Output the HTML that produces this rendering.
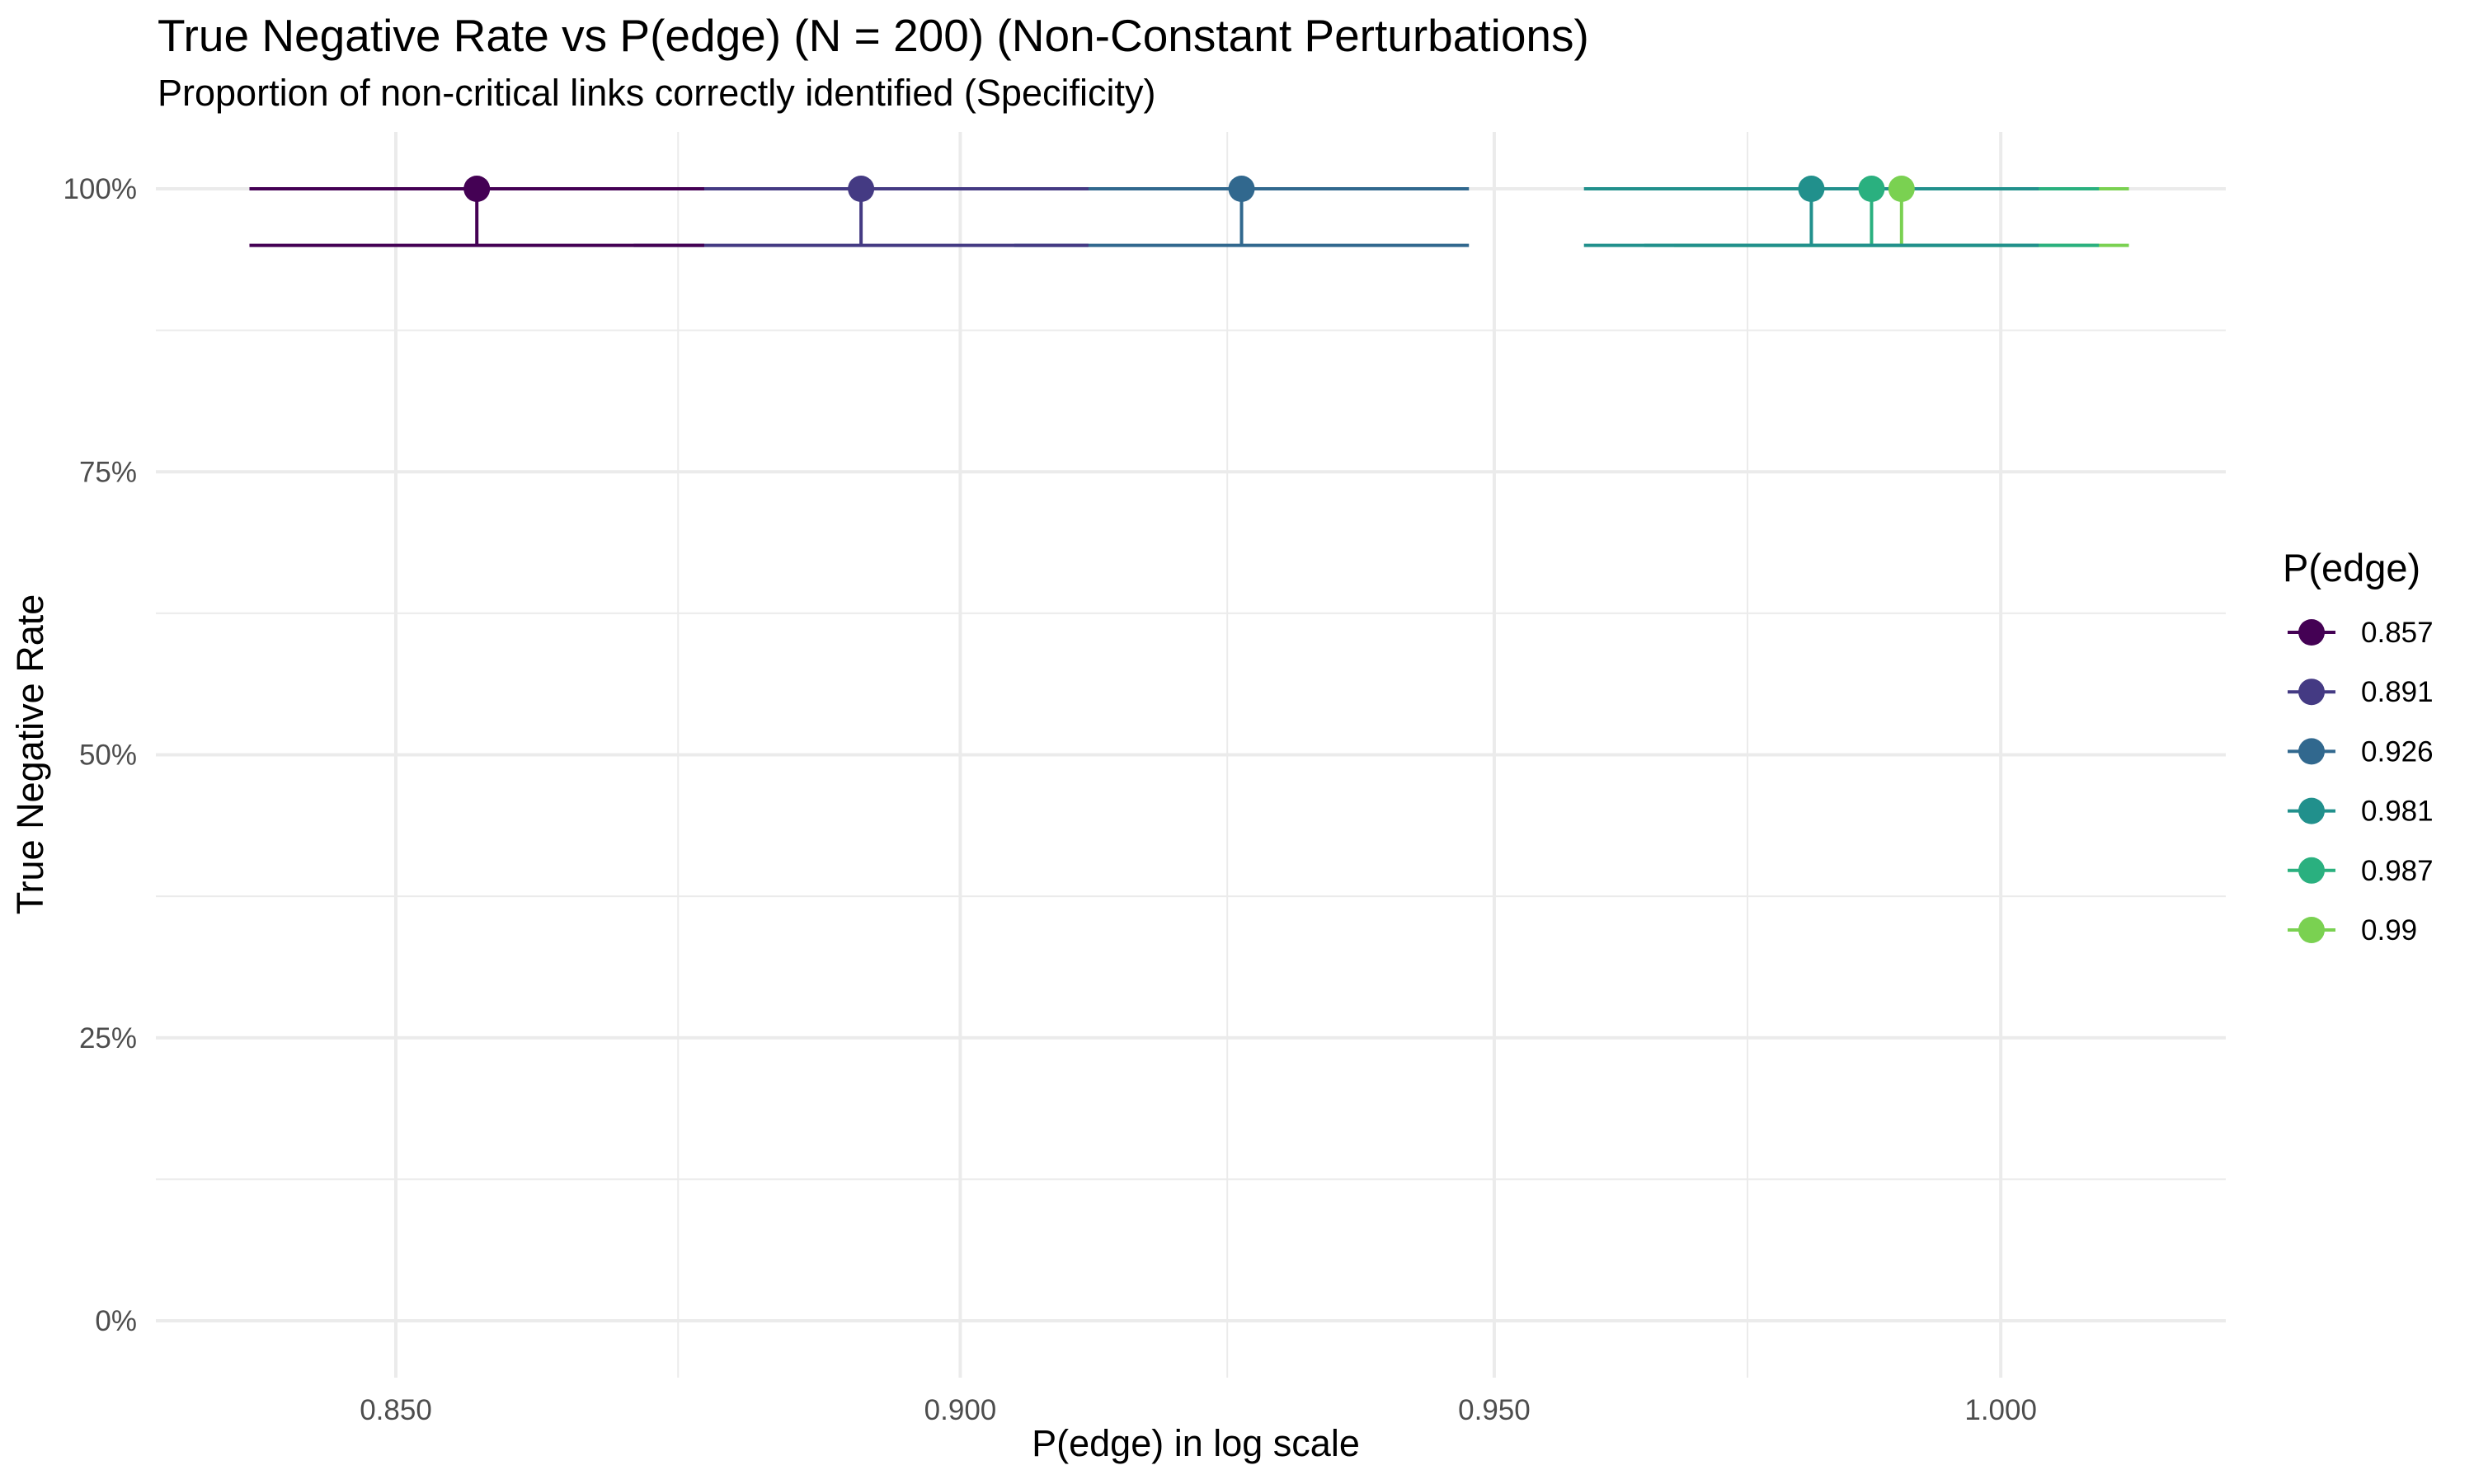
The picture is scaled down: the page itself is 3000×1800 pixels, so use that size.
<!DOCTYPE html>
<html><head><meta charset="utf-8"><style>
html,body{margin:0;padding:0;background:#fff;}
svg{display:block;font-family:"Liberation Sans",sans-serif;}
</style></head><body>
<svg id="chart" width="3000" height="1800" viewBox="0 0 3000 1800">
<text x="191" y="62" font-size="55" fill="#000">True Negative Rate vs P(edge) (N = 200) (Non-Constant Perturbations)</text>
<text x="191" y="128" font-size="45" fill="#000">Proportion of non-critical links correctly identified (Specificity)</text>
<g id="grid"></g>
<g id="marks"></g>
<g id="axes"></g>
<text x="1450" y="1766" font-size="45" text-anchor="middle" fill="#000">P(edge) in log scale</text>
<text transform="translate(52,915) rotate(-90)" font-size="45" text-anchor="middle" fill="#000">True Negative Rate</text>
<text x="2768" y="705" font-size="47" fill="#000">P(edge)</text>
<g id="legend"></g>
</svg>
<script>
const categories = ["0.857","0.891","0.926","0.981","0.987","0.99"];
const pEdge = [0.857,0.891,0.926,0.981,0.987,0.99];
const tnr = [1.0,1.0,1.0,1.0,1.0,1.0];
const tnrLow = [0.95,0.95,0.95,0.95,0.95,0.95];
const colors = ["#440154","#443A83","#31688E","#21908C","#2AB07F","#7AD151"];
const xTicks = [0.85,0.9,0.95,1.0];
const xTickLabels = ["0.850","0.900","0.950","1.000"];
const yTicks = [0,0.25,0.5,0.75,1];
const yTickLabels = ["0%","25%","50%","75%","100%"];

const NS="http://www.w3.org/2000/svg";
const PL=189, PR=2699, PT=160, PB=1671;
const K=11975;
function xs(v){return 480+Math.log(v/0.85)*K;}
function ys(v){return 1602-v*1373;}
function mk(tag,attrs,parent){const e=document.createElementNS(NS,tag);for(const k in attrs)e.setAttribute(k,attrs[k]);parent.appendChild(e);return e;}
const grid=document.getElementById('grid'), marks=document.getElementById('marks'), axes=document.getElementById('axes'), legend=document.getElementById('legend');

for(let i=0;i<yTicks.length-1;i++){
  const y=(ys(yTicks[i])+ys(yTicks[i+1]))/2;
  const l=mk('line',{x1:PL,x2:PR,y1:y,y2:y,stroke:'#ebebeb','stroke-width':2},grid);
  
  
}
for(let i=0;i<xTicks.length-1;i++){
  const x=(xs(xTicks[i])+xs(xTicks[i+1]))/2;
  const l=mk('line',{x1:x,x2:x,y1:PT,y2:PB,stroke:'#ebebeb','stroke-width':2},grid);
  
  
}
yTicks.forEach((v,i)=>{
  const y=ys(v);
  const l=mk('line',{x1:PL,x2:PR,y1:y,y2:y,stroke:'#ebebeb','stroke-width':4},grid);
  
  
  const t=mk('text',{x:166,y:y+12,'font-size':35,'text-anchor':'end',fill:'#4d4d4d'},axes);
  t.textContent=yTickLabels[i];
  
  
});
xTicks.forEach((v,i)=>{
  const x=xs(v);
  const l=mk('line',{x1:x,x2:x,y1:PT,y2:PB,stroke:'#ebebeb','stroke-width':4},grid);
  
  
  const t=mk('text',{x:x,y:1722,'font-size':35,'text-anchor':'middle',fill:'#4d4d4d'},axes);
  t.textContent=xTickLabels[i];
  
  
});
const F=Math.pow(10,0.01);
for(let i=pEdge.length-1;i>=0;i--){
  const p=pEdge[i];
  const g=mk('g',{},marks);
  
  
  const x0=xs(p/F), x1=xs(p*F), x=xs(p), yT=ys(tnr[i]), yB=ys(tnrLow[i]);
  mk('line',{x1:x0,x2:x1,y1:yT,y2:yT,stroke:colors[i],'stroke-width':4},g);
  mk('line',{x1:x0,x2:x1,y1:yB,y2:yB,stroke:colors[i],'stroke-width':4},g);
  mk('line',{x1:x,x2:x,y1:yT,y2:yB,stroke:colors[i],'stroke-width':4},g);
}
pEdge.forEach((p,i)=>{
  const c=mk('circle',{cx:xs(p),cy:ys(tnr[i]),r:16,fill:colors[i]},marks);
  
  
});
categories.forEach((c,i)=>{
  const y=767+i*72.2;
  const g=mk('g',{},legend);
  
  
  mk('line',{x1:2774,x2:2832,y1:y,y2:y,stroke:colors[i],'stroke-width':4},g);
  mk('circle',{cx:2803,cy:y,r:16,fill:colors[i]},g);
  const t=mk('text',{x:2863,y:y+12,'font-size':35,fill:'#000'},g);
  t.textContent=c;
});
</script>
</body></html>
